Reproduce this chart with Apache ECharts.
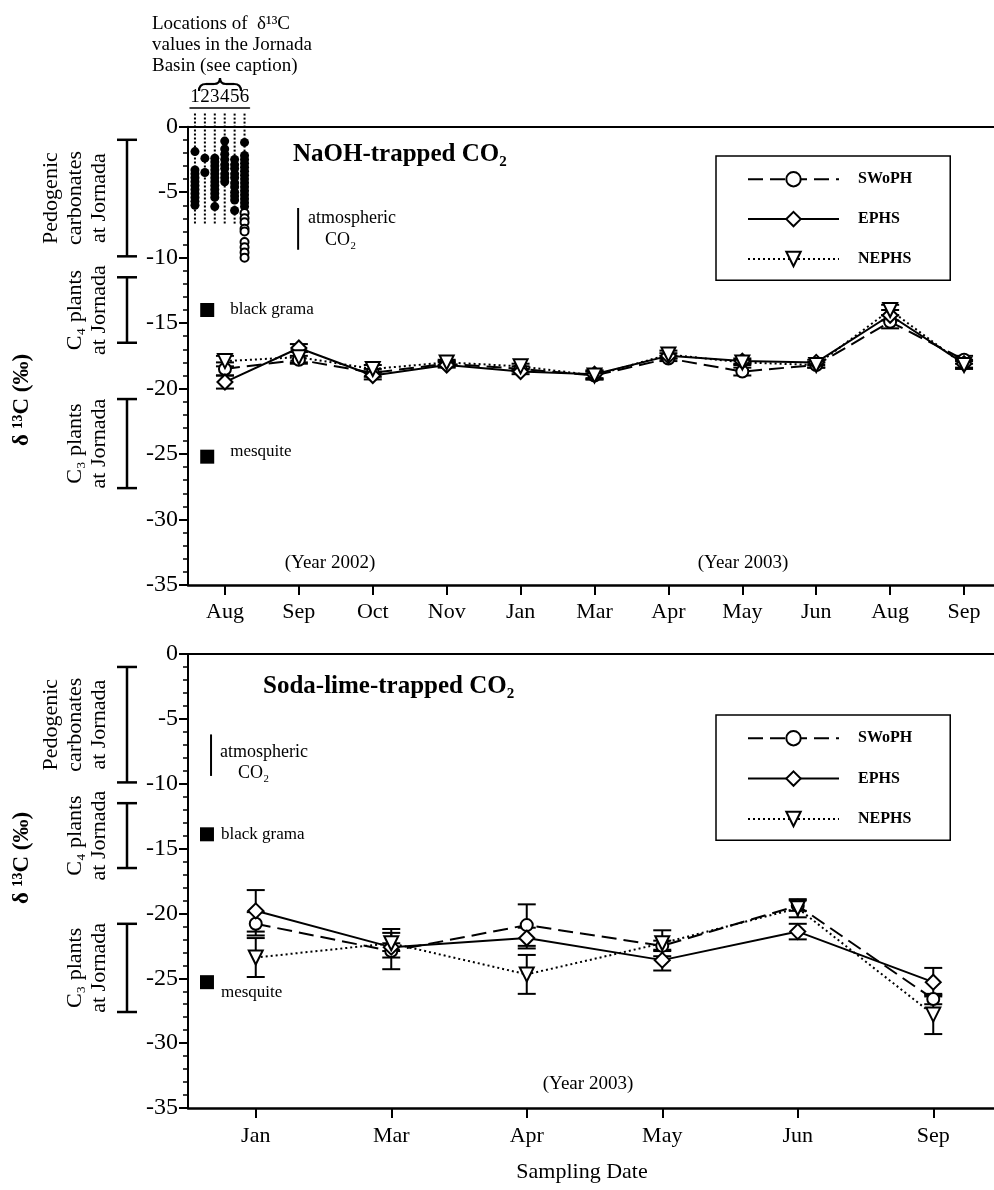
<!DOCTYPE html>
<html><head><meta charset="utf-8">
<script src="https://cdn.jsdelivr.net/npm/echarts@6/dist/echarts.min.js"></script>
<style>html,body{margin:0;padding:0;background:#fff}#c{width:994px;height:1190px}</style>
</head><body><div id="c"></div>
<script>
// ---------- data ----------
const naohMonths = ['Aug','Sep','Oct','Nov','Jan','Mar','Apr','May','Jun','Aug','Sep'];
const naohSWoPH  = [-18.5,-17.8,-18.8,-18.1,-18.5,-19.0,-17.7,-18.7,-18.2,-14.9,-17.8];
const naohEPHS   = [-19.5,-16.9,-19.0,-18.2,-18.7,-18.9,-17.5,-17.9,-18.0,-14.4,-18.1];
const naohNEPHS  = [-17.9,-17.6,-18.5,-18.0,-18.3,-19.0,-17.4,-18.0,-18.2,-14.0,-18.2];
const naohErrSWoPH = [0.5,0.3,0.3,0.2,0.2,0.3,0.2,0.3,0.2,0.5,0.3];
const naohErrEPHS  = [0.5,0.3,0.3,0.2,0.2,0.3,0.2,0.2,0.2,0.4,0.3];
const naohErrNEPHS = [0.4,0.4,0.3,0.2,0.2,0.3,0.3,0.2,0.2,0.4,0.3];

const sodaMonths = ['Jan','Mar','Apr','May','Jun','Sep'];
const sodaSWoPH  = [-20.8,-22.9,-20.9,-22.5,-19.4,-26.6];
const sodaEPHS   = [-19.8,-22.6,-21.9,-23.6,-21.4,-25.3];
const sodaNEPHS  = [-23.4,-22.3,-24.7,-22.3,-19.6,-27.8];
const sodaErrSWoPH = [0.9,1.4,1.6,0.4,0.4,0.4];
const sodaErrEPHS  = [1.6,0.3,0.8,0.8,0.6,1.1];
const sodaErrNEPHS = [1.5,1.1,1.5,1.0,0.7,1.5];

const seriesNames = ['SWoPH','EPHS','NEPHS'];

// Jornada Basin d13C locations (1-6)
const locationLabels = ['1','2','3','4','5','6'];
const loc1 = [-1.9,-3.3,-3.6,-3.9,-4.2,-4.5,-4.8,-5.1,-5.4,-5.7,-6.0];
const loc2 = [-2.4,-3.5];
const loc3 = [-2.4,-2.7,-3.0,-3.3,-3.6,-3.9,-4.2,-4.5,-4.8,-5.1,-5.4,-6.1];
const loc4 = [-1.1,-1.7,-2.1,-2.5,-2.9,-3.2,-3.6,-3.9,-4.2];
const loc5 = [-2.5,-2.9,-3.2,-3.6,-3.9,-4.3,-4.6,-5.0,-5.3,-5.6,-6.4];
const loc6 = [-1.2,-2.2,-2.5,-2.8,-3.1,-3.4,-3.7,-4.0,-4.3,-4.6,-4.9,-5.2,-5.5,-5.8,-6.1];
const loc6Open = [-6.6,-7.0,-7.3,-7.8,-8.0,-8.8,-9.2,-9.6,-10.0];
const locLineTop = 1.0;
const locLineBottom = [-7.4,-7.4,-7.4,-7.4,-7.4,-10.0];

// reference ranges at Jornada
const rangeNames  = ['Pedogenic\ncarbonates\nat Jornada','C\u2084 plants\nat Jornada','C\u2083 plants\nat Jornada'];
const rangeTop    = [-1.0,-11.5,-20.8];
const rangeBottom = [-9.9,-16.5,-27.6];

// plant reference values
const plantNames  = ['black grama','mesquite'];
const plantNaOH   = [-14.0,-25.2];
const plantSoda   = [-13.9,-25.3];
const atmCO2      = [-6.2,-9.4];

// ---------- helpers ----------
const FF = "'Liberation Serif','Times New Roman',serif";
const BLACK = '#000';

const lineStyles = {
  SWoPH: {type:[15,7], symbol:'circle', size:12, rot:0},
  EPHS:  {type:'solid', symbol:'diamond', size:15, rot:0},
  NEPHS: {type:[2,3], symbol:'triangle', size:14, rot:180}
};

function lineSeries(name, data, xi, yi) {
  const s = lineStyles[name];
  return {
    type:'line', name, data, xAxisIndex:xi, yAxisIndex:yi, z:5,
    symbol:s.symbol, symbolSize:s.size, symbolRotate:s.rot, showAllSymbol:true,
    lineStyle:{color:BLACK, width:2, type:s.type},
    itemStyle:{color:'#fff', borderColor:BLACK, borderWidth:2, opacity:1},
    emphasis:{disabled:true}, animation:false
  };
}

function errSeries(vals, errs, xi, yi) {
  return {
    type:'custom', name:'err', xAxisIndex:xi, yAxisIndex:yi, z:2, silent:true, animation:false,
    data: vals.map((v,i)=>[i, v-errs[i], v+errs[i]]),
    renderItem:(params, api)=>{
      const hi = api.coord([api.value(0), api.value(2)]);
      const lo = api.coord([api.value(0), api.value(1)]);
      const w = 9, st = {stroke:BLACK, lineWidth:2};
      return {type:'group', children:[
        {type:'line', shape:{x1:hi[0],y1:hi[1],x2:lo[0],y2:lo[1]}, style:st},
        {type:'line', shape:{x1:hi[0]-w,y1:hi[1],x2:hi[0]+w,y2:hi[1]}, style:st},
        {type:'line', shape:{x1:lo[0]-w,y1:lo[1],x2:lo[0]+w,y2:lo[1]}, style:st}
      ]};
    }
  };
}

function rangeSeries(xi, yi) {
  return {
    type:'custom', name:'ranges', xAxisIndex:xi, yAxisIndex:yi, silent:true, animation:false,
    data: rangeTop.map((t,i)=>[0, t, rangeBottom[i], i]),
    renderItem:(params, api)=>{
      const a = api.coord([0, api.value(1)]);
      const b = api.coord([0, api.value(2)]);
      const w = 10, st = {stroke:BLACK, lineWidth:2.5};
      const cy = (a[1]+b[1])/2;
      return {type:'group', children:[
        {type:'line', shape:{x1:a[0],y1:a[1],x2:b[0],y2:b[1]}, style:st},
        {type:'line', shape:{x1:a[0]-w,y1:a[1],x2:a[0]+w,y2:a[1]}, style:st},
        {type:'line', shape:{x1:b[0]-w,y1:b[1],x2:b[0]+w,y2:b[1]}, style:st},
        {type:'text', x:a[0]-16, y:cy, rotation:Math.PI/2,
         style:{text:rangeNames[params.dataIndex], x:0, y:0, fill:BLACK,
                font:"22px "+FF, lineHeight:24,
                textAlign:'center', textVerticalAlign:'bottom', align:'center', verticalAlign:'bottom'}}
      ]};
    }
  };
}

function plantSeries(vals, xPos, xi, yi, labelDist, lastOffset) {
  return {
    type:'scatter', name:'plants', xAxisIndex:xi, yAxisIndex:yi, silent:true, animation:false, z:6,
    symbol:'rect', symbolSize:14, itemStyle:{color:BLACK, opacity:1},
    data: plantNames.map((n,i)=>({name:n, value:[xPos, vals[i]],
      label: i===1 ? {offset:lastOffset} : {}})),
    label:{show:true, position:'right', distance:labelDist, formatter:'{b}',
           fontFamily:FF, fontSize:17, color:BLACK, opacity:1}
  };
}

function atmSeries(xPos, xi, yi) {
  return {
    type:'line', name:'atm', xAxisIndex:xi, yAxisIndex:yi, silent:true, animation:false,
    data: atmCO2.map(v=>[xPos, v]), symbol:'none',
    lineStyle:{color:BLACK, width:2}
  };
}

function yMain(gi) {
  return {
    type:'value', gridIndex:gi, min:-35, max:0, interval:5,
    axisLine:{show:true, onZero:false, lineStyle:{color:BLACK, width:2}},
    axisTick:{show:true, inside:false, length:9, lineStyle:{color:BLACK, width:2}},
    minorTick:{show:true, splitNumber:5, length:5, lineStyle:{color:BLACK, width:1.5}},
    axisLabel:{show:true, margin:10, fontFamily:FF, fontSize:24, color:BLACK},
    splitLine:{show:false}, minorSplitLine:{show:false}
  };
}
function yHidden(gi) {
  return {type:'value', gridIndex:gi, min:-35, max:0, show:false, splitLine:{show:false}};
}
function xMonths(gi, data, margin) {
  return {
    type:'category', gridIndex:gi, data, position:'bottom', boundaryGap:true,
    axisLine:{show:true, onZero:false, lineStyle:{color:BLACK, width:2.5}},
    axisTick:{show:true, alignWithLabel:true, inside:false, length:10, lineStyle:{color:BLACK, width:2}},
    axisLabel:{show:true, interval:0, margin, fontFamily:FF, fontSize:22, color:BLACK},
    splitLine:{show:false}
  };
}
function xOverlay(gi, n) {
  return {
    type:'value', gridIndex:gi, position:'top', min:-0.5, max:n-0.5,
    axisLine:{show:true, onZero:false, lineStyle:{color:BLACK, width:2}},
    axisTick:{show:false}, axisLabel:{show:false}, splitLine:{show:false}
  };
}

function gtext(x, y, text, size, o) {
  o = o || {};
  const align = o.align || 'left', va = o.va || 'middle';
  return {type:'text', x, y, rotation:o.rot||0, z:100, silent:true,
    style:{text, x:0, y:0, fill:BLACK, font:(o.bold?'bold ':'')+size+'px '+FF,
      lineHeight:o.lh||size, textAlign:align, textVerticalAlign:va, align:align, verticalAlign:va}};
}

const legendBase = {
  data:seriesNames, orient:'vertical', left:716, itemWidth:91, itemHeight:18,
  borderColor:BLACK, borderWidth:1.5, backgroundColor:'#fff', selectedMode:false,
  padding:[15,38,13,31], align:'left',
  textStyle:{fontFamily:FF, fontWeight:'bold', fontSize:16, color:BLACK, padding:[0,0,0,14]}
};

// ---------- option ----------
const option = {
  animation:false,
  backgroundColor:'#fff',
  grid:[
    {left:188, top:126.7, width:813, height:458.3, outerBoundsMode:'none', containLabel:false},
    {left:188, top:654, width:813, height:454, outerBoundsMode:'none', containLabel:false},
    {left:190, top:126.7, width:59.5, height:458.3, outerBoundsMode:'none', containLabel:false},
    {left:100, top:126.7, width:54, height:458.3, outerBoundsMode:'none', containLabel:false},
    {left:100, top:654, width:54, height:454, outerBoundsMode:'none', containLabel:false}
  ],
  xAxis:[
    xMonths(0, naohMonths, 16),
    xOverlay(0, naohMonths.length),
    xMonths(1, sodaMonths, 17),
    xOverlay(1, sodaMonths.length),
    {type:'category', gridIndex:2, data:locationLabels, position:'top', offset:18.7,
     axisLine:{show:true, onZero:false, lineStyle:{color:BLACK, width:1.5}},
     axisTick:{show:false}, axisLabel:{show:true, interval:0, margin:1, fontFamily:FF, fontSize:19, color:BLACK},
     splitLine:{show:false}},
    {type:'category', gridIndex:3, data:['r'], show:false},
    {type:'category', gridIndex:4, data:['r'], show:false}
  ],
  yAxis:[ yMain(0), yMain(1), yHidden(2), yHidden(3), yHidden(4) ],
  legend:[
    Object.assign({}, legendBase, {top:156, itemGap:23.5}),
    Object.assign({}, legendBase, {top:715, itemGap:24})
  ],
  series:[
    // NaOH panel
    errSeries(naohSWoPH, naohErrSWoPH, 0, 0),
    errSeries(naohEPHS, naohErrEPHS, 0, 0),
    errSeries(naohNEPHS, naohErrNEPHS, 0, 0),
    lineSeries('SWoPH', naohSWoPH, 0, 0),
    lineSeries('EPHS', naohEPHS, 0, 0),
    lineSeries('NEPHS', naohNEPHS, 0, 0),
    plantSeries(plantNaOH, -0.24, 1, 0, 16, [0,-5]),
    atmSeries(0.99, 1, 0),
    // Soda-lime panel
    errSeries(sodaSWoPH, sodaErrSWoPH, 2, 1),
    errSeries(sodaEPHS, sodaErrEPHS, 2, 1),
    errSeries(sodaNEPHS, sodaErrNEPHS, 2, 1),
    lineSeries('SWoPH', sodaSWoPH, 2, 1),
    lineSeries('EPHS', sodaEPHS, 2, 1),
    lineSeries('NEPHS', sodaNEPHS, 2, 1),
    plantSeries(plantSoda, -0.36, 3, 1, 7, [0,10]),
    atmSeries(-0.33, 3, 1),
    // Jornada location columns
    {type:'custom', name:'locLines', xAxisIndex:4, yAxisIndex:2, silent:true, animation:false, z:1,
     data: locationLabels.map((l,i)=>[i, locLineTop, locLineBottom[i]]),
     renderItem:(params, api)=>{
       const a = api.coord([api.value(0), api.value(1)]);
       const b = api.coord([api.value(0), api.value(2)]);
       return {type:'line', shape:{x1:a[0],y1:a[1],x2:b[0],y2:b[1]},
               style:{stroke:BLACK, lineWidth:2, lineDash:[2,2]}};
     }},
    {type:'scatter', name:'locFilled', xAxisIndex:4, yAxisIndex:2, silent:true, animation:false, z:3,
     symbol:'circle', symbolSize:9, itemStyle:{color:BLACK, opacity:1},
     data: [loc1,loc2,loc3,loc4,loc5,loc6].flatMap((arr,i)=>arr.map(v=>[i, v]))},
    {type:'scatter', name:'locOpen', xAxisIndex:4, yAxisIndex:2, silent:true, animation:false, z:3,
     symbol:'circle', symbolSize:8, itemStyle:{color:'#fff', borderColor:BLACK, borderWidth:2, opacity:1},
     data: loc6Open.map(v=>[5, v])},
    // range annotations
    rangeSeries(5, 3),
    rangeSeries(6, 4)
  ],
  graphic:{elements:[
    gtext(152, 14, 'Locations of  \u03b4\u00b9\u00b3C\nvalues in the Jornada\nBasin (see caption)', 19, {va:'top', lh:21}),
    {type:'bezierCurve', silent:true, shape:{x1:199,y1:91,cpx1:199,cpy1:84,x2:206,y2:84}, style:{stroke:BLACK, lineWidth:2.2, fill:null}},
    {type:'line', silent:true, shape:{x1:206,y1:84,x2:214,y2:84}, style:{stroke:BLACK, lineWidth:2.2}},
    {type:'bezierCurve', silent:true, shape:{x1:214,y1:84,cpx1:220,cpy1:84,x2:220,y2:78}, style:{stroke:BLACK, lineWidth:2.2, fill:null}},
    {type:'bezierCurve', silent:true, shape:{x1:220,y1:78,cpx1:220,cpy1:84,x2:226,y2:84}, style:{stroke:BLACK, lineWidth:2.2, fill:null}},
    {type:'line', silent:true, shape:{x1:226,y1:84,x2:234,y2:84}, style:{stroke:BLACK, lineWidth:2.2}},
    {type:'bezierCurve', silent:true, shape:{x1:234,y1:84,cpx1:241,cpy1:84,x2:241,y2:91}, style:{stroke:BLACK, lineWidth:2.2, fill:null}},
    gtext(293, 155, 'NaOH-trapped CO\u2082', 25, {bold:true}),
    gtext(308, 218, 'atmospheric', 18),
    gtext(325, 240, 'CO\u2082', 18),
    gtext(330, 563, '(Year 2002)', 19, {align:'center'}),
    gtext(743, 563, '(Year 2003)', 19, {align:'center'}),
    gtext(22, 400, '\u03b4 \u00b9\u00b3C (\u2030)', 23, {bold:true, align:'center', rot:Math.PI/2}),
    gtext(263, 687, 'Soda-lime-trapped CO\u2082', 25, {bold:true}),
    gtext(220, 752, 'atmospheric', 18),
    gtext(238, 773, 'CO\u2082', 18),
    gtext(588, 1084, '(Year 2003)', 19, {align:'center'}),
    gtext(22, 858, '\u03b4 \u00b9\u00b3C (\u2030)', 23, {bold:true, align:'center', rot:Math.PI/2}),
    gtext(582, 1172, 'Sampling Date', 22, {align:'center'})
  ]}
};

const chart = echarts.init(document.getElementById('c'), null, {renderer:'canvas'});
chart.setOption(option);
</script>
</body></html>
